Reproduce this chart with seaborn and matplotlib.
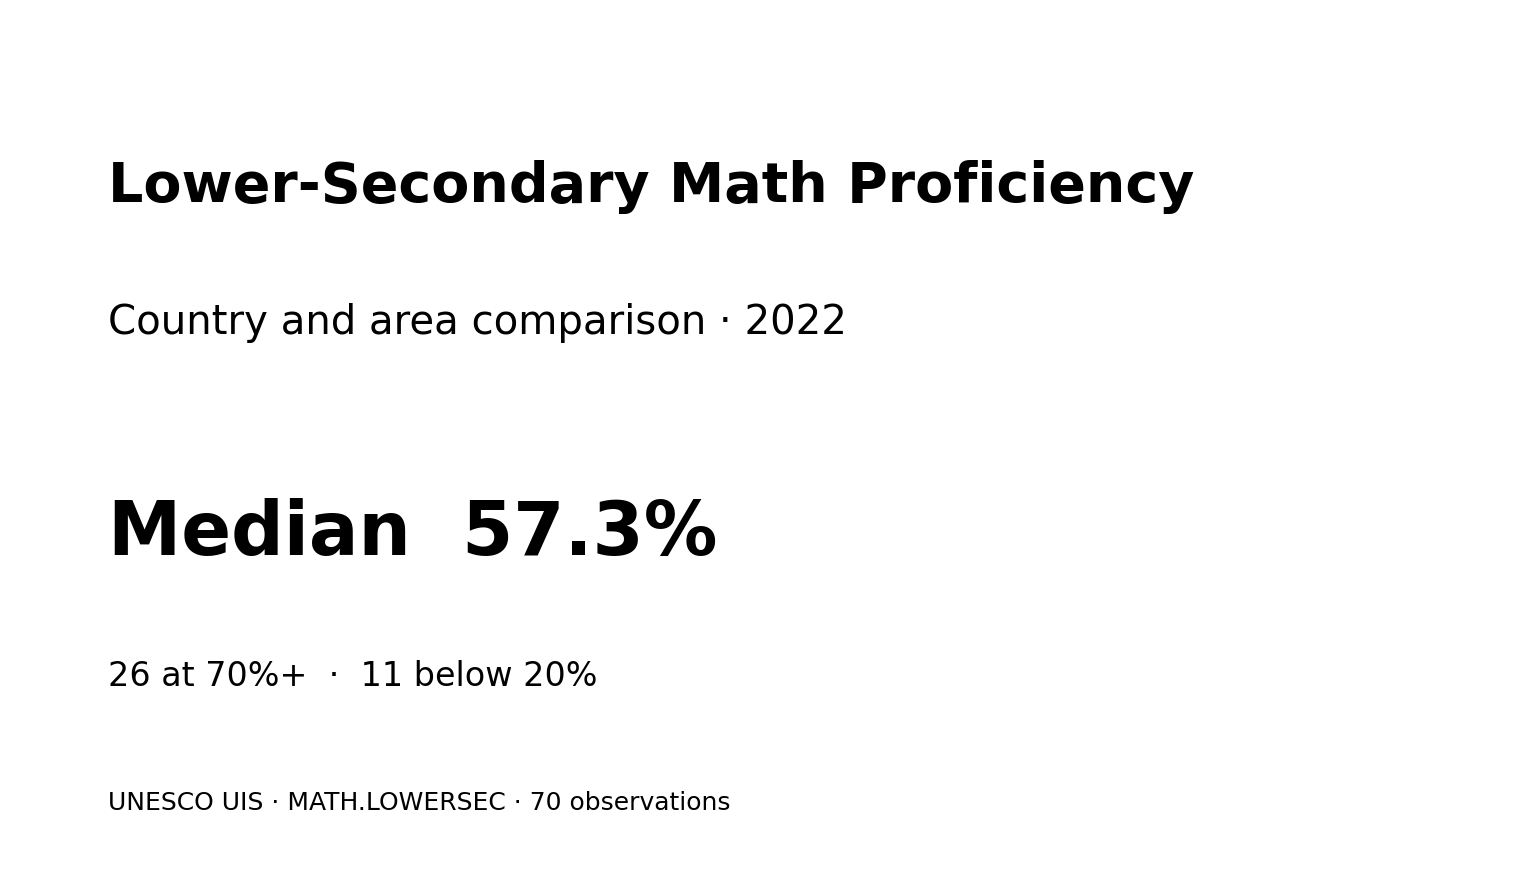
import matplotlib
matplotlib.use("Agg")
import matplotlib.pyplot as plt
import seaborn as sns

# ---- data ----
title = "Lower-Secondary Math Proficiency"
subtitle = "Country and area comparison · 2022"
median_value = 57.3
high_threshold = 70
low_threshold = 20
n_high = 26
n_low = 11
n_obs = 70
source = "UNESCO UIS · MATH.LOWERSEC"

sns.set_theme(style="white")
plt.rcParams["font.family"] = ["DejaVu Sans"]

fig = plt.figure(figsize=(15.4, 8.8), dpi=100)
fig.patch.set_facecolor("white")
ax = fig.add_axes([0, 0, 1, 1])
ax.set_axis_off()

x0 = 108 / 1540
fig.text(x0, 1 - 202 / 880, title, fontsize=40, fontweight="bold", va="baseline", color="black")
fig.text(x0, 1 - 334 / 880, subtitle, fontsize=29, va="baseline", color="black")
fig.text(x0, 1 - 555 / 880, f"Median  {median_value:.1f}%", fontsize=53, fontweight="bold",
         va="baseline", color="black")
fig.text(x0, 1 - 686 / 880, f"{n_high} at {high_threshold}%+  ·  {n_low} below {low_threshold}%",
         fontsize=24, va="baseline", color="black")
fig.text(x0, 1 - 810 / 880, f"{source} · {n_obs} observations", fontsize=18,
         va="baseline", color="black")

fig.savefig("out.png", dpi=100, facecolor="white")
